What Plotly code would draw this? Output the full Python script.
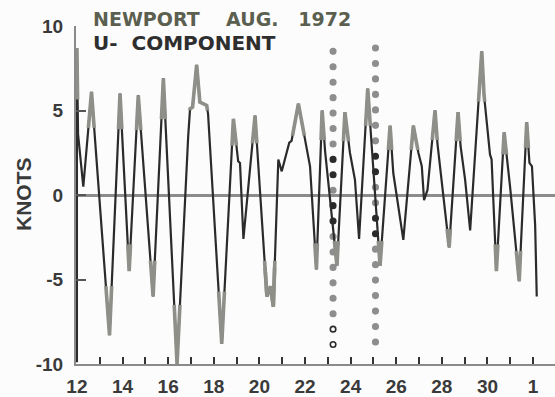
import numpy as np
import plotly.graph_objects as go

# Newport current record, August 1972: day of month (32 = 1 September)
# and east-west (U) component of the current in knots
day = [12.00, 12.00, 12.05, 12.28, 12.64, 13.43, 13.89, 14.29, 14.69, 15.34,
       15.79, 16.39, 16.88, 16.96, 17.07, 17.25, 17.39, 17.69, 17.75, 18.35,
       18.86, 19.07, 19.15, 19.30, 19.81, 20.33, 20.49, 20.61, 20.83, 20.98,
       21.31, 21.41, 21.71, 22.22, 22.50, 22.75, 22.88, 23.40, 23.75, 23.97,
       24.19, 24.37, 24.75, 25.29, 25.73, 25.87, 26.31, 26.75, 26.97, 27.12,
       27.22, 27.37, 27.70, 27.81, 28.32, 28.71, 28.82, 29.02, 29.24, 29.75,
       29.85, 30.11, 30.18, 30.39, 30.73, 30.86, 30.99, 31.39, 31.72, 31.84,
       31.95, 32.09, 32.16]
knots = [-9.9, 8.7, 3.6, 0.5, 6.1, -8.3, 6.0, -4.5, 5.9, -6.0,
         6.9, -10.0, 3.5, 5.1, 5.2, 7.7, 5.5, 5.3, 4.8, -8.8,
         4.5, 2.0, 1.9, -2.6, 4.7, -6.0, -5.4, -6.6, 2.1, 1.4,
         3.1, 3.2, 5.4, 1.7, -4.4, 5.0, 2.6, -4.2, 4.9, 2.5,
         0.9, -2.6, 6.3, -4.2, 4.1, 1.3, -2.65, 4.1, 2.5, 1.7,
         -0.3, 0.3, 5.0, 3.0, -3.1, 4.9, 2.9, 0.9, -2.1, 8.5,
         5.9, 2.4, 2.1, -4.5, 3.7, 2.1, 0.5, -5.1, 4.3, 1.9,
         1.7, -1.8, -6.0]

# Dotted event markers (day of month) and their vertical extent in knots
event_days = [23.23, 25.09]
event_top = [8.5, 8.7]
event_bottom = [-8.85, -8.7]

# Axis ticks
x_tick_days = [12, 13, 14, 15, 16, 17, 18, 19, 20, 21, 22,
               23, 24, 25, 26, 27, 28, 29, 30, 31, 32]
x_tick_labels = ["12", "", "14", "", "16", "", "18", "", "20", "", "22",
                 "", "24", "", "26", "", "28", "", "30", "", "1"]
y_tick_vals = [10, 5, 0, -5, -10]
y_tick_labels = ["10", "5", "0", "-5", "-10"]

FONT = "Liberation Sans"
TITLE_FONT = "DejaVu Sans"
INK = "#2b2b2b"
GREY = "#8d8f88"
NB = "\u00a0"


def extreme_parts(x, y, frac=0.65, min_amp=3.0):
    """Pieces of the trace near each crest/trough (beyond frac of its value)."""
    xs, ys = [], []
    n = len(y)
    for i in range(1, n - 1):
        is_max = y[i] > y[i - 1] and y[i] >= y[i + 1] and y[i] >= min_amp
        is_min = y[i] < y[i - 1] and y[i] <= y[i + 1] and y[i] <= -min_amp
        if not (is_max or is_min):
            continue
        t = frac * y[i]

        def inside(v):
            return v >= t if is_max else v <= t

        j = i
        while j - 1 >= 0 and inside(y[j - 1]):
            j -= 1
        k = i
        while k + 1 < n and inside(y[k + 1]):
            k += 1
        px, py = [], []
        if j - 1 >= 0:
            a, b = j - 1, j
            f = (t - y[a]) / (y[b] - y[a])
            px.append(x[a] + f * (x[b] - x[a]))
            py.append(t)
        px += list(x[j:k + 1])
        py += list(y[j:k + 1])
        if k + 1 < n:
            a, b = k, k + 1
            f = (t - y[a]) / (y[b] - y[a])
            px.append(x[a] + f * (x[b] - x[a]))
            py.append(t)
        xs += px + [None]
        ys += py + [None]
    return xs, ys


fig = go.Figure()

# dotted vertical event lines
for n_line, (d, top, bot) in enumerate(zip(event_days, event_top, event_bottom)):
    vals = np.linspace(top, bot, 20)
    if n_line == 0:
        dark = {7, 8, 10, 11}
        hollow = {18, 19}
    else:
        dark = {7, 8, 11, 12}
        hollow = set()
    colors = [INK if (i in dark or i in hollow) else "#8e8e8e" for i in range(20)]
    symbols = ["circle-open" if i in hollow else "circle" for i in range(20)]
    fig.add_trace(go.Scatter(
        x=[d] * len(vals), y=vals, mode="markers",
        marker=dict(size=5.5, color=colors, symbol=symbols,
                    line=dict(width=1.6, color=colors)),
        hoverinfo="skip"))

# the current trace
fig.add_trace(go.Scatter(x=day, y=knots, mode="lines",
                         line=dict(color=INK, width=2.2),
                         hoverinfo="skip"))
gx, gy = extreme_parts(day, knots)
fig.add_trace(go.Scatter(x=gx, y=gy, mode="lines",
                         line=dict(color=GREY, width=3.6),
                         connectgaps=False, hoverinfo="skip"))

fig.update_layout(
    width=555, height=397,
    margin=dict(l=76, r=0, t=26, b=27),
    paper_bgcolor="#fcfcfc", plot_bgcolor="#fcfcfc",
    showlegend=False,
    font=dict(family=FONT, size=19, color="#3a3a3a", weight="bold"),
    xaxis=dict(range=[11.96, 32.96], tickmode="array",
               tickvals=x_tick_days, ticktext=x_tick_labels,
               ticks="inside", ticklen=7, tickwidth=1.6, tickcolor="#333",
               showline=True, linecolor="#8a8a8a", linewidth=2,
               showgrid=False, zeroline=False, ticklabelstandoff=4),
    yaxis=dict(range=[-10, 10], tickmode="array",
               tickvals=y_tick_vals, ticktext=y_tick_labels,
               ticks="inside", ticklen=10, tickwidth=2, tickcolor="#555",
               showline=True, linecolor="#8a8a8a", linewidth=2,
               showgrid=False, zeroline=True, zerolinecolor="#8c8c8c",
               zerolinewidth=2.5, ticklabelstandoff=7),
    annotations=[
        dict(text="NEWPORT" + NB * 4 + "AUG." + NB * 3 + "1972",
             xref="paper", yref="paper", x=0.0355, y=(370 - 19) / 344,
             xanchor="left", yanchor="middle", showarrow=False,
             borderpad=0, borderwidth=0,
             font=dict(family=TITLE_FONT, size=19, color="#5b5f50",
                       weight="bold")),
        dict(text="U-" + NB * 2 + "COMPONENT",
             xref="paper", yref="paper", x=0.0355, y=(370 - 43) / 344,
             xanchor="left", yanchor="middle", showarrow=False,
             borderpad=0, borderwidth=0,
             font=dict(family=TITLE_FONT, size=20, color="#2e2e2e",
                       weight="bold")),
        dict(text="KNOTS", textangle=-90,
             xref="paper", yref="paper", x=-0.1086, y=0.503,
             xanchor="center", yanchor="middle", showarrow=False,
             font=dict(family=FONT, size=21, color="#3a3a3a", weight="bold")),
    ],
)

fig.write_html("out.html")
